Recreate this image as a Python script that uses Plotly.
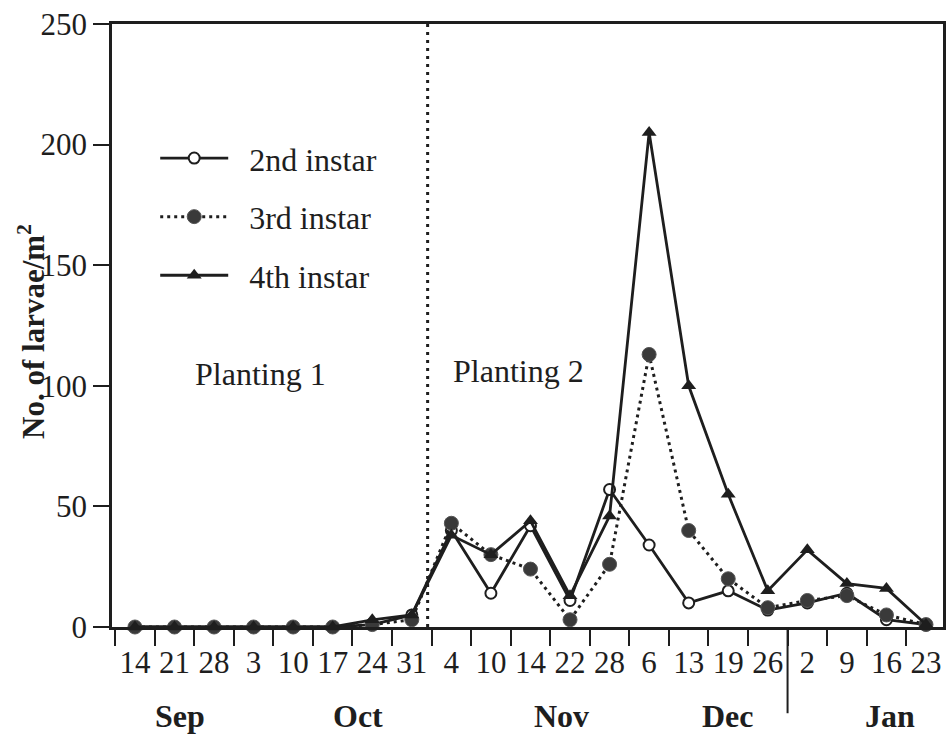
import plotly.graph_objects as go

# ---- data ----
day_labels = ["14", "21", "28", "3", "10", "17", "24", "31", "4", "10", "14",
              "22", "28", "6", "13", "19", "26", "2", "9", "16", "23"]
months = ["Sep", "Oct", "Nov", "Dec", "Jan"]
month_pos = [1.13, 5.64, 10.78, 14.99, 19.09]

instar2 = [0, 0, 0, 0, 0, 0, 1, 5, 40, 14, 42, 11, 57, 34, 10, 15, 7, 10, 14, 3, 1]
instar3 = [0, 0, 0, 0, 0, 0, 1, 3, 43, 30, 24, 3, 26, 113, 40, 20, 8, 11, 13, 5, 1]
instar4 = [0, 0, 0, 0, 0, 0, 3, 5, 38, 30, 44, 13, 46, 205, 100, 55, 15, 32, 18, 16, 1]

x = list(range(len(day_labels)))
planting_split = 7.4
dec_jan_split = 16.5

FONT = "Liberation Serif"
INK = "#1e1e1e"
PAD = "\u00a0\u00a0"

fig = go.Figure()

fig.add_trace(go.Scatter(
    x=x, y=instar2, name=PAD + "2nd instar", mode="lines+markers",
    line=dict(color=INK, width=2.8),
    marker=dict(symbol="circle", size=11, color="white", line=dict(color=INK, width=2)),
    cliponaxis=False, legendgroup="a"))
fig.add_trace(go.Scatter(
    x=x, y=instar3, name=PAD + "3rd instar", mode="lines+markers",
    line=dict(color=INK, width=3, dash="3px,4px"),
    marker=dict(symbol="circle", size=14, color="#3a3a3a", line=dict(color="#555", width=1)),
    cliponaxis=False, legendgroup="b"))
fig.add_trace(go.Scatter(
    x=x, y=instar4, name=PAD + "4th instar", mode="lines+markers",
    line=dict(color=INK, width=2.8),
    marker=dict(symbol="triangle-up", size=13, color=INK),
    cliponaxis=False, legendgroup="c"))

# invisible trace on second x axis to carry the day labels
fig.add_trace(go.Scatter(x=x, y=[None] * len(x), xaxis="x2", showlegend=False,
                         hoverinfo="skip"))

xr = [-0.58, 20.43]
fig.update_layout(
    width=948, height=738,
    margin=dict(l=112, r=2, t=24, b=111),
    paper_bgcolor="white", plot_bgcolor="white",
    font=dict(family=FONT, size=31, color=INK),
    xaxis=dict(range=xr, tickvals=[i - 0.5 for i in range(len(x))],
               showticklabels=False, ticks="outside", ticklen=16, tickwidth=2,
               tickcolor=INK, showline=True, linecolor=INK, linewidth=2.5,
               mirror=True, showgrid=False, zeroline=False),
    xaxis2=dict(range=xr, overlaying="x", matches="x", side="bottom",
                tickvals=x, ticktext=day_labels, ticks="", showline=False,
                showgrid=False, zeroline=False, ticklabelstandoff=14,
                tickfont=dict(family=FONT, size=31, color=INK)),
    yaxis=dict(range=[0, 250], tickvals=[0, 50, 100, 150, 200, 250],
               ticks="outside", ticklen=16, tickwidth=2, tickcolor=INK,
               showline=True, linecolor=INK, linewidth=2.5, mirror=True,
               showgrid=False, zeroline=False, ticklabelstandoff=0,
               tickfont=dict(family=FONT, size=31, color=INK)),
    legend=dict(x=0.052, y=0.823, xanchor="left", yanchor="top",
                bgcolor="rgba(0,0,0,0)", font=dict(family=FONT, size=32, color=INK),
                itemwidth=68, tracegroupgap=14),
    showlegend=True,
)

shapes = [
    dict(type="line", xref="x", yref="paper", x0=planting_split, x1=planting_split,
         y0=0, y1=1, line=dict(color=INK, width=3, dash="3px,5px")),
    dict(type="line", xref="x", yref="paper", x0=dec_jan_split, x1=dec_jan_split,
         y0=0, y1=-0.143, line=dict(color=INK, width=2)),
]
fig.update_layout(shapes=shapes)

annotations = []
for m, p in zip(months, month_pos):
    annotations.append(dict(x=p, y=-0.147, xref="x", yref="paper", text="<b>" + m + "</b>",
                            showarrow=False, font=dict(family=FONT, size=32, color=INK),
                            xanchor="center", yanchor="middle"))
annotations.append(dict(x=3.17, y=105, xref="x", yref="y", text="Planting 1",
                        showarrow=False, font=dict(family=FONT, size=32, color=INK)))
annotations.append(dict(x=9.70, y=106, xref="x", yref="y", text="Planting 2",
                        showarrow=False, font=dict(family=FONT, size=32, color=INK)))
annotations.append(dict(x=-0.097, y=0.49, xref="paper", yref="paper",
                        text="<b>No. of larvae/m<sup>2</sup></b>", textangle=-90,
                        showarrow=False, font=dict(family=FONT, size=31, color=INK),
                        xanchor="center", yanchor="middle"))
fig.update_layout(annotations=annotations)

fig.write_html("out.html")
